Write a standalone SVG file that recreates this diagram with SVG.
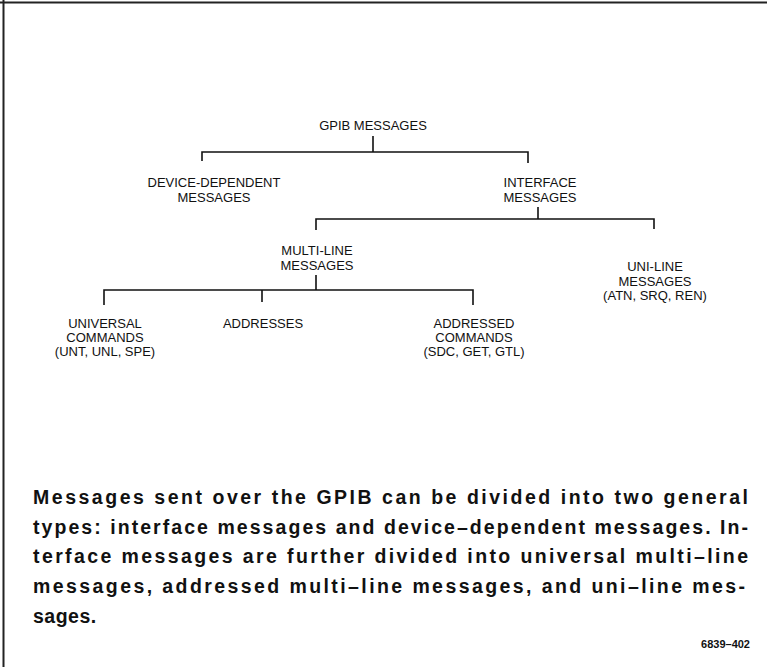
<svg xmlns="http://www.w3.org/2000/svg" width="767" height="667" viewBox="0 0 767 667">
<style>
.lbl{font-family:"Liberation Sans",Arial,sans-serif;font-size:13px;fill:#111;text-anchor:middle}
.para{font-family:"Liberation Sans",Arial,sans-serif;font-size:19.5px;font-weight:bold;fill:#111}
.fig{font-family:"Liberation Sans",Arial,sans-serif;font-size:11px;font-weight:bold;fill:#111;text-anchor:end}
.ln{stroke:#111;stroke-width:1.6;fill:none}
.bd{stroke:#222;stroke-width:2;fill:none}
</style>
<rect width="767" height="667" fill="#fff"/>
<g id="border">
<line class="bd" x1="0" y1="2.5" x2="767" y2="2.5"/>
<line class="bd" x1="3.5" y1="0" x2="3.5" y2="667"/>
</g>
<g id="connectors">
<path class="ln" d="M373 136 V152 M202 161 V152 H528 V163"/>
<path class="ln" d="M538 207 V219 M316 230 V219 H654 V229"/>
<path class="ln" d="M316 275 V290 M104 305 V290 H473 V305 M262 290 V302"/>
</g>
<g id="gpib"><text class="lbl" x="373" y="130">GPIB MESSAGES</text></g>
<g id="device-dependent"><text class="lbl" x="214" y="187">DEVICE-DEPENDENT</text><text class="lbl" x="214" y="202">MESSAGES</text></g>
<g id="interface"><text class="lbl" x="540" y="187">INTERFACE</text><text class="lbl" x="540" y="202">MESSAGES</text></g>
<g id="multi-line"><text class="lbl" x="317" y="255">MULTI-LINE</text><text class="lbl" x="317" y="270">MESSAGES</text></g>
<g id="uni-line"><text class="lbl" x="655" y="271">UNI-LINE</text><text class="lbl" x="655" y="286">MESSAGES</text><text class="lbl" x="655" y="300">(ATN, SRQ, REN)</text></g>
<g id="universal"><text class="lbl" x="105" y="328">UNIVERSAL</text><text class="lbl" x="105" y="342">COMMANDS</text><text class="lbl" x="105" y="356">(UNT, UNL, SPE)</text></g>
<g id="addresses"><text class="lbl" x="263" y="328">ADDRESSES</text></g>
<g id="addressed"><text class="lbl" x="474" y="328">ADDRESSED</text><text class="lbl" x="474" y="342">COMMANDS</text><text class="lbl" x="474" y="356">(SDC, GET, GTL)</text></g>
<g id="caption">
<text class="para" x="33" y="504" textLength="715" lengthAdjust="spacing">Messages sent over the GPIB can be divided into two general</text>
<text class="para" x="33" y="534" textLength="715" lengthAdjust="spacing">types: interface messages and device–dependent messages. In-</text>
<text class="para" x="33" y="563" textLength="715" lengthAdjust="spacing">terface messages are further divided into universal multi–line</text>
<text class="para" x="33" y="593" textLength="712" lengthAdjust="spacing">messages, addressed multi–line messages, and uni–line mes-</text>
<text class="para" x="33" y="623" letter-spacing="0.5">sages.</text>
</g>
<g id="fignum"><text class="fig" x="750" y="648">6839–402</text></g>
</svg>
